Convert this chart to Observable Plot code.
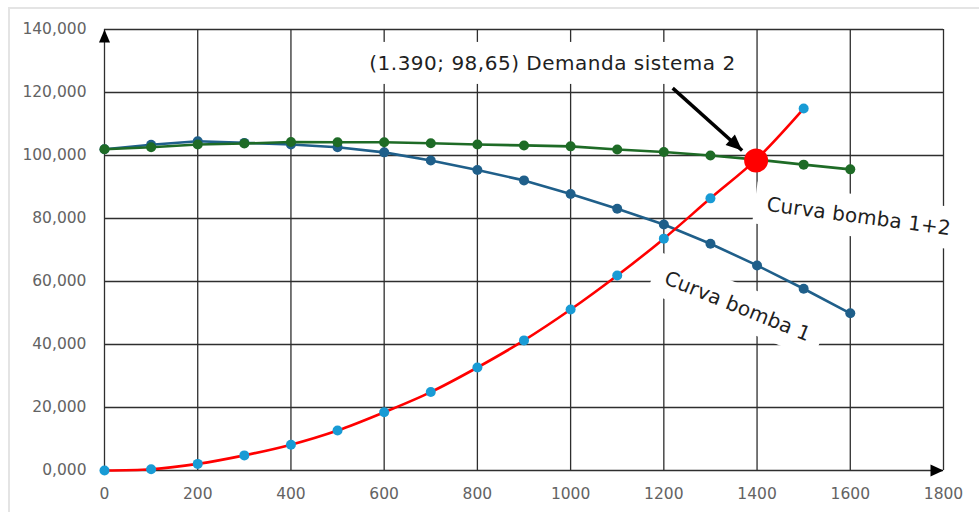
<!DOCTYPE html>
<html><head><meta charset="utf-8">
<script src="https://cdn.jsdelivr.net/npm/d3@7"></script>
<script src="https://cdn.jsdelivr.net/npm/@observablehq/plot@0.6"></script>
<style>
html,body{margin:0;padding:0;background:#fff;}
#wrap{position:relative;width:979px;height:512px;overflow:hidden;background:#fff;}
#frame{position:absolute;left:8px;top:7px;width:1000px;height:600px;border-left:2px solid #e4e4e4;border-top:2px solid #e4e4e4;}
#chart{position:absolute;left:0;top:0;}
</style></head><body>
<div id="wrap"><div id="frame"></div><div id="chart"></div></div>
<script>
// Caudal (x) for pump curves
const caudal = [0,100,200,300,400,500,600,700,800,900,1000,1100,1200,1300,1400,1500,1600];
// Curva bomba 1
const bomba1 = [102.0,103.4,104.5,104.0,103.5,102.6,101.0,98.4,95.4,92.1,87.8,83.1,78.1,72.0,65.1,57.7,49.9];
// Curva bomba 1+2
const bomba12 = [102.0,102.6,103.5,103.8,104.3,104.2,104.2,103.9,103.5,103.2,102.9,101.9,101.1,100.0,98.7,97.1,95.6];
// Demanda sistema 2
const caudalSistema = [0,100,200,300,400,500,600,700,800,900,1000,1100,1200,1300,1400,1500];
const sistema = [0,0.4,2.1,4.8,8.2,12.7,18.5,24.9,32.7,41.3,51.1,61.9,73.6,86.4,99.0,114.9];
// Punto de operación
const interseccion = [{q:1398, h:98.4}];
// Ticks
const xTicks = [0,200,400,600,800,1000,1200,1400,1600,1800];
const xTickLabels = ["0","200","400","600","800","1000","1200","1400","1600","1800"];
const yTicks = [0,20,40,60,80,100,120,140];
const yTickLabels = ["0,000","20,000","40,000","60,000","80,000","100,000","120,000","140,000"];
// Annotations
const labelTexts = ["(1.390; 98,65) Demanda sistema 2", "Curva bomba 1+2", "Curva bomba 1"];
const labelQ = [961, 1618, 1358];
const labelH = [129.2, 80.6, 52.1];
const labelAngle = [0, 7.5, 22];
const labelSpacing = [0.5, 0.15, 0.15];
const flecha = [{q1:1219, h1:121.4, q2:1368, h2:101.6}];
const ejes = [{q:0, h:140, dir:"up"}, {q:1800, h:0, dir:"right"}];

const labels = labelTexts.map((text,i)=>({text, q:labelQ[i], h:labelH[i], angle:labelAngle[i]}));
const b1 = caudal.map((q,i)=>({q, h:bomba1[i]}));
const b12 = caudal.map((q,i)=>({q, h:bomba12[i]}));
const sys = caudalSistema.map((q,i)=>({q, h:sistema[i]}));

const W = 979, H = 512, mL = 104, mR = 36, mT = 29, mB = 42;
const xDomain = [0,1800], yDomain = [0,140];
// arrow-head orientation from the scales
const sx = Plot.scale({x:{domain:xDomain, range:[mL, W-mR]}});
const sy = Plot.scale({y:{domain:yDomain, range:[H-mB, mT]}});
const f = flecha[0];
const ang = Math.atan2(sy.apply(f.h2)-sy.apply(f.h1), sx.apply(f.q2)-sx.apply(f.q1));
function tri(len, half, a){
  const c = Math.cos(a), s = Math.sin(a);
  const pt = (u,v)=>[u*c - v*s, u*s + v*c];
  return {draw(ctx){
    const p0 = pt(0,0), p1 = pt(-len,-half), p2 = pt(-len,half);
    ctx.moveTo(p0[0],p0[1]); ctx.lineTo(p1[0],p1[1]); ctx.lineTo(p2[0],p2[1]); ctx.closePath();
  }};
}
const upTri = tri(13, 5.5, -Math.PI/2);
const rightTri = tri(13, 6, 0);
const headTri = tri(16, 7, ang);

const grid = {stroke:"#2e2e2e", strokeWidth:1.3, strokeOpacity:1};
const plot = Plot.plot({
  width:W, height:H,
  marginLeft:mL, marginRight:mR, marginTop:mT, marginBottom:mB,
  style:{fontFamily:"DejaVu Sans", fontSize:"15.5px", color:"#636363", background:"transparent", overflow:"visible"},
  x:{domain:xDomain, ticks:xTicks, tickFormat:d=>xTickLabels[xTicks.indexOf(d)], tickSize:0, tickPadding:17, label:null},
  y:{domain:yDomain, ticks:yTicks, tickFormat:d=>yTickLabels[yTicks.indexOf(d)], tickSize:0, tickPadding:18, label:null},
  marks:[
    Plot.ruleY(yTicks, grid),
    Plot.ruleX(xTicks, grid),
    Plot.text(labels, {x:"q", y:"h", text:"text", rotate:"angle", fontSize:20, fill:"#1f1f1f", fontFamily:"DejaVu Sans"}),
    Plot.line(b1, {x:"q", y:"h", stroke:"#1f5f8a", strokeWidth:2.6}),
    Plot.dot(b1, {x:"q", y:"h", fill:"#1f5f8a", r:5}),
    Plot.line(b12, {x:"q", y:"h", stroke:"#1e6b26", strokeWidth:2.6}),
    Plot.dot(b12, {x:"q", y:"h", fill:"#1e6b26", r:5}),
    Plot.line(sys, {x:"q", y:"h", stroke:"#ff0000", strokeWidth:2.6, curve:"catmull-rom"}),
    Plot.dot(sys, {x:"q", y:"h", fill:"#189bd5", r:5}),
    Plot.dot(interseccion, {x:"q", y:"h", fill:"#ff0000", r:12}),
    Plot.link(flecha, {x1:"q1", y1:"h1", x2:"q2", y2:"h2", stroke:"#000", strokeWidth:3.5, insetEnd:10}),
    Plot.dot(flecha, {x:"q2", y:"h2", symbol:headTri, fill:"#000", stroke:null}),
    Plot.dot(ejes.filter(d=>d.dir==="up"), {x:"q", y:"h", symbol:upTri, fill:"#000", stroke:null}),
    Plot.dot(ejes.filter(d=>d.dir==="right"), {x:"q", y:"h", symbol:rightTri, fill:"#000", stroke:null})
  ]
});
document.getElementById("chart").append(plot);
// white boxes behind the annotation labels
plot.querySelectorAll("text").forEach(t=>{
  const k = labelTexts.indexOf(t.textContent);
  if (k < 0) return;
  t.style.letterSpacing = labelSpacing[k] + "px";
  const bb = t.getBBox();
  const px = 12, py = 9;
  const r = document.createElementNS("http://www.w3.org/2000/svg","rect");
  r.setAttribute("x", bb.x-px); r.setAttribute("y", bb.y-py);
  r.setAttribute("width", bb.width+2*px); r.setAttribute("height", bb.height+2*py);
  r.setAttribute("fill", "#ffffff");
  const tr = t.getAttribute("transform"); if (tr) r.setAttribute("transform", tr);
  t.parentNode.insertBefore(r, t);
});
</script>
</body></html>
